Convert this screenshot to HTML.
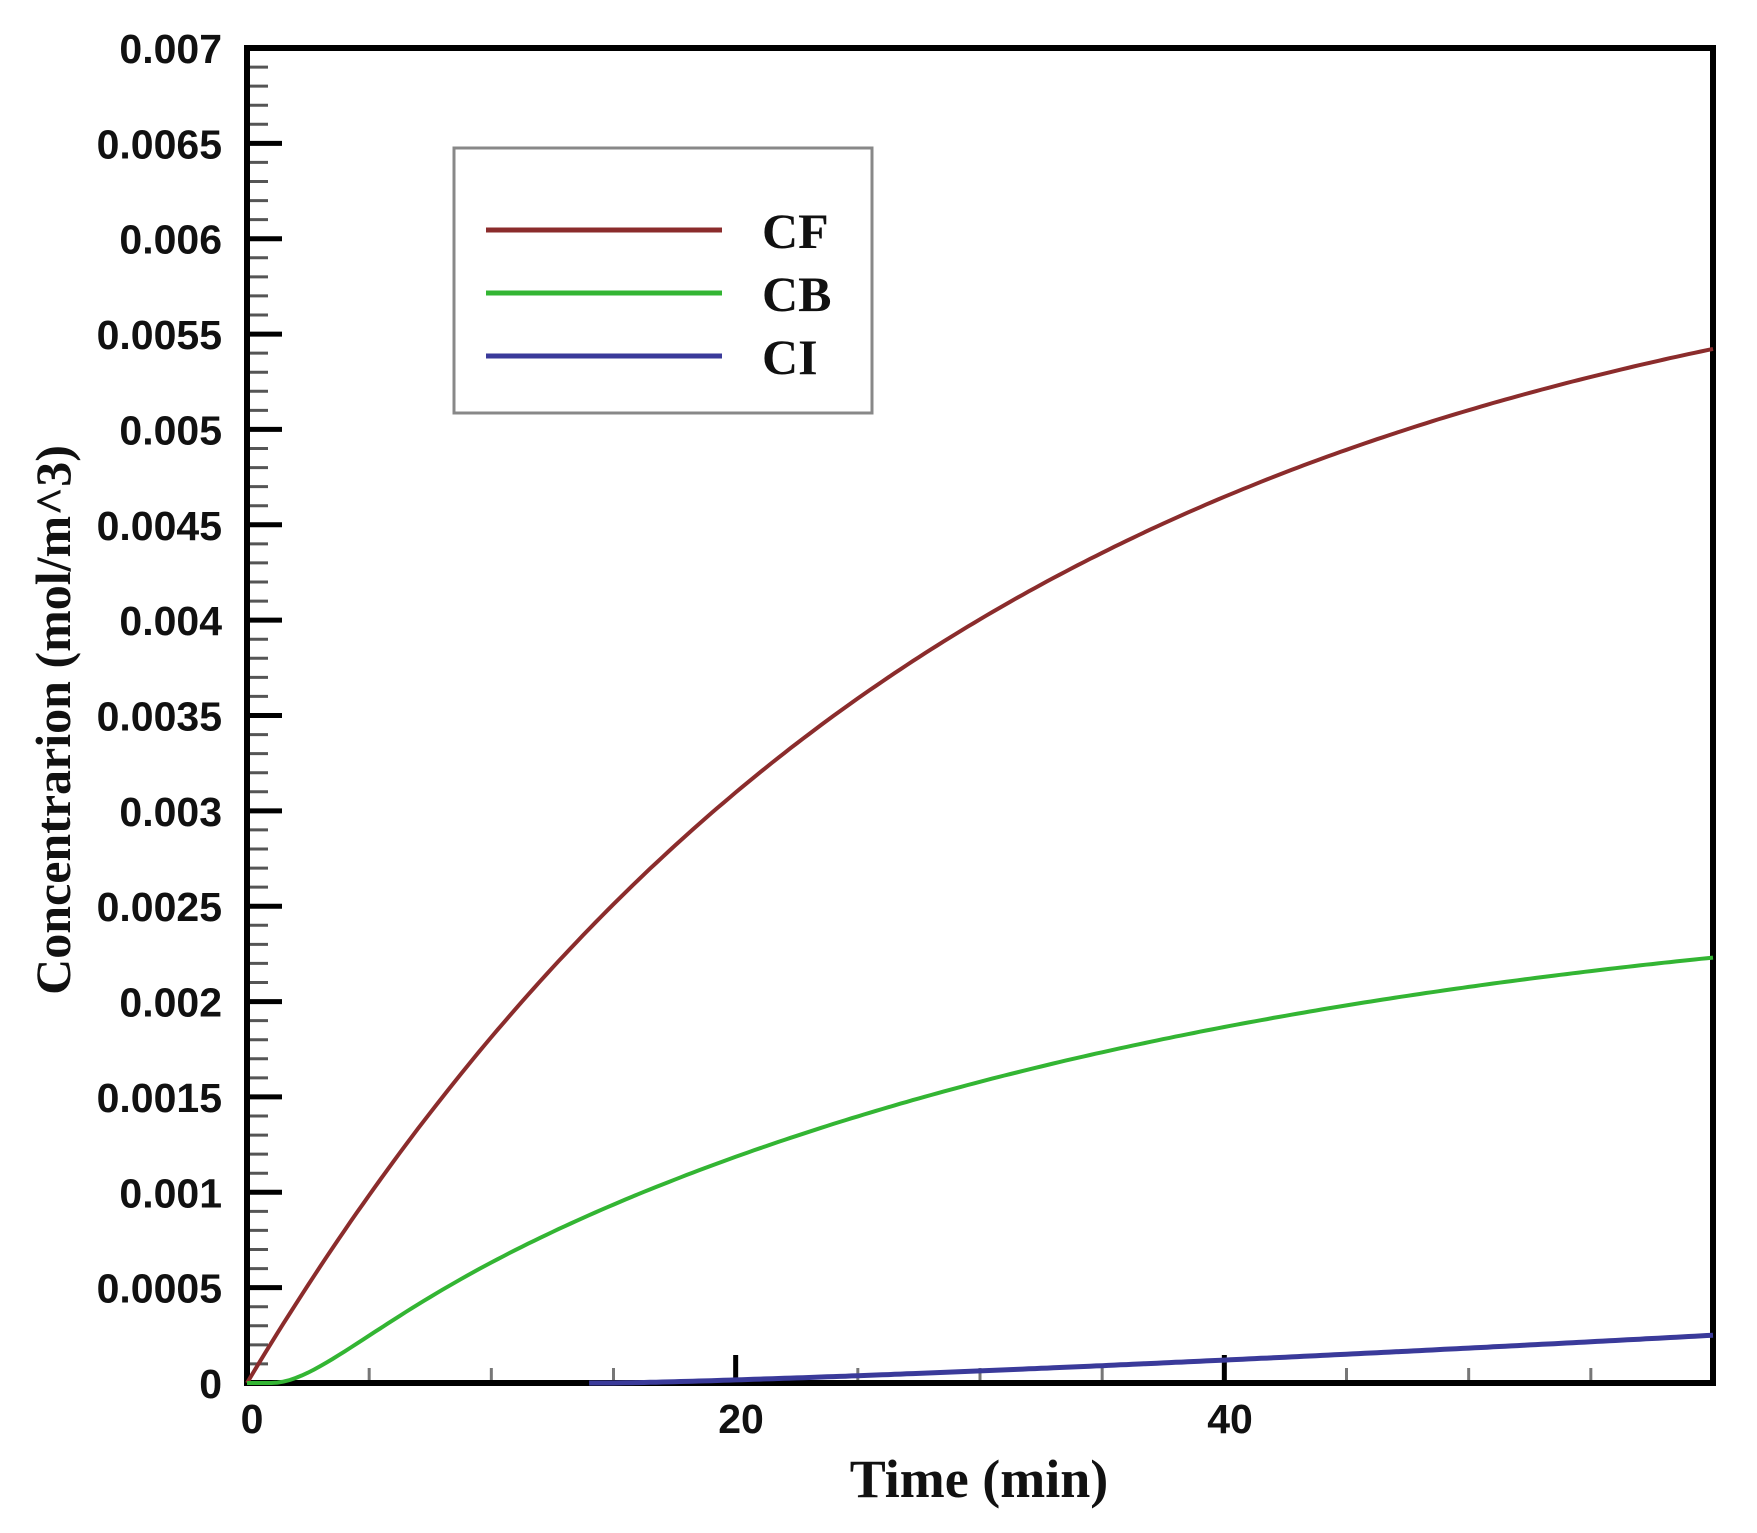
<!DOCTYPE html>
<html><head><meta charset="utf-8"><style>
html,body{margin:0;padding:0;background:#fff;}
svg{display:block;}
</style></head><body>
<svg id="s" width="1757" height="1533" viewBox="0 0 1757 1533" xmlns="http://www.w3.org/2000/svg">
<g id="ticks"></g>
<rect x="247" y="48" width="1466" height="1335" fill="none" stroke="#000" stroke-width="6"/>
<path id="cf" fill="none" stroke="#8b2c2c" stroke-width="4"/>
<path id="cb" fill="none" stroke="#33b533" stroke-width="4"/>
<path id="ci" fill="none" stroke="#3a3a9a" stroke-width="5"/>
<g font-family="Liberation Sans, sans-serif" font-weight="bold" font-size="41" fill="#111" text-anchor="end" id="ylab"></g>
<g font-family="Liberation Sans, sans-serif" font-weight="bold" font-size="41" fill="#111" text-anchor="middle">
<text x="252" y="1433">0</text><text x="741" y="1433">20</text><text x="1230" y="1433">40</text>
</g>
<text x="979" y="1497" font-family="Liberation Serif, serif" font-weight="bold" font-size="54" text-anchor="middle" fill="#111">Time (min)</text>
<text transform="translate(70,720) rotate(-90)" font-family="Liberation Serif, serif" font-weight="bold" font-size="50" text-anchor="middle" fill="#111">Concentrarion (mol/m^3)</text>
<rect x="454" y="148" width="418" height="265" fill="#fff" stroke="#888" stroke-width="3"/>
<line x1="486" y1="230" x2="722" y2="230" stroke="#8b2c2c" stroke-width="5"/>
<line x1="486" y1="293" x2="722" y2="293" stroke="#33b533" stroke-width="5"/>
<line x1="486" y1="356" x2="722" y2="356" stroke="#3a3a9a" stroke-width="5"/>
<g font-family="Liberation Serif, serif" font-weight="bold" font-size="50" fill="#111">
<text x="762" y="248">CF</text><text x="762" y="311">CB</text><text x="762" y="374">CI</text>
</g>
</svg>
<script>
var X0=247,X1=1713,Y0=1383,Y1=48;
function px(t){return X0+(X1-X0)*t/60;}
function py(c){return Y0-(Y0-Y1)*c/0.007;}
var tk='',yl='';
for(var i=0;i<=70;i++){var y=py(i*0.0001);var maj=i%5==0;
 if(i>0&&i<70) tk+='<line x1="247" y1="'+y+'" x2="'+(maj?282:268)+'" y2="'+y+'" stroke="'+(maj?'#000':'#555')+'" stroke-width="'+(maj?5:3)+'"/>';
 if(maj){var v=i*0.0001;var s=i==0?'0':(+v.toFixed(4)).toString();yl+='<text x="222" y="'+(y+15)+'">'+s+'</text>';}}
for(var t=5;t<60;t+=5){var x=px(t);var maj=t%20==0;
 tk+='<line x1="'+x+'" y1="1383" x2="'+x+'" y2="'+(maj?1355:1368)+'" stroke="'+(maj?'#000':'#777')+'" stroke-width="'+(maj?5:3)+'"/>';}
document.getElementById('ticks').innerHTML=tk;
document.getElementById('ylab').innerHTML=yl;
function path(f,t0){var d='';var first=true;for(var t=t0||0;t<=60;t+=0.25){d+=(first?'M':'L')+px(t).toFixed(1)+' '+py(f(t)).toFixed(1);first=false;}return d;}
document.getElementById('cf').setAttribute('d',path(function(t){return 0.0062*(1-Math.exp(-t/28.9));}));
document.getElementById('cb').setAttribute('d',path(function(t){var u=t<1?0:t-1;return 0.00265*(1-Math.exp(-u/32))*(1-Math.exp(-u/2.5));}));
document.getElementById('ci').setAttribute('d',path(function(t){return t<15?0:2.15e-6*Math.pow(t-15,1.25);},14));
</script>
</body></html>
